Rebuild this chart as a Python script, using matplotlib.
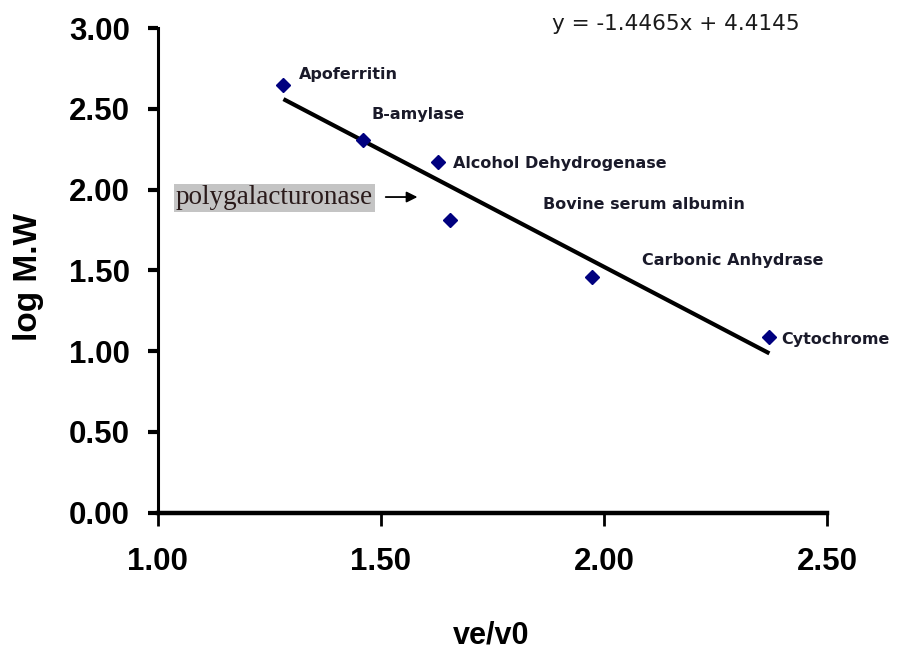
import matplotlib
matplotlib.use("Agg")
import matplotlib.pyplot as plt
import numpy as np

# elution ratio (ve/v0) and log molecular weight of the standards
ve_v0 = [1.282, 1.459, 1.629, 1.655, 1.972, 2.370]
log_mw = [2.647, 2.306, 2.168, 1.811, 1.457, 1.085]
names = ["Apoferritin", "B-amylase", "Alcohol Dehydrogenase",
         "Bovine serum albumin", "Carbonic Anhydrase", "Cytochrome"]

# fitted line
slope = -1.4465
intercept = 4.4145

x_ticks = [1.0, 1.5, 2.0, 2.5]
y_ticks = [0.0, 0.5, 1.0, 1.5, 2.0, 2.5, 3.0]

arial = ["Liberation Sans", "DejaVu Sans"]

fig = plt.figure(figsize=(9, 6.52), dpi=100)
ax = fig.add_axes([0.175, 0.2136, 0.7444, 0.7434])

xs = np.array([min(ve_v0), max(ve_v0)])
ax.plot(xs, slope * xs + intercept, color="black", lw=3.0, solid_capstyle="butt", zorder=2)
ax.plot(ve_v0, log_mw, linestyle="none", marker="D", ms=7.5, color="#00007f", zorder=3)

ax.set_xlim(1.0, 2.5)
ax.set_ylim(0.0, 3.0)
ax.set_xticks(x_ticks)
ax.set_yticks(y_ticks)
ax.set_xticklabels(["%.2f" % v for v in x_ticks])
ax.set_yticklabels(["%.2f" % v for v in y_ticks])
for lab in ax.get_xticklabels() + ax.get_yticklabels():
    lab.set_family(arial)
    lab.set_fontweight("bold")
    lab.set_fontsize(22.5)

ax.spines["top"].set_visible(False)
ax.spines["right"].set_visible(False)
ax.spines["bottom"].set_linewidth(3.2)
ax.spines["left"].set_linewidth(2.2)
ax.tick_params(axis="x", direction="out", length=9, width=2.0, pad=16)
ax.tick_params(axis="y", direction="out", length=7, width=3.0, pad=13)

# protein names next to the points
name_pos = [(1.317, 2.714), (1.480, 2.465), (1.661, 2.162),
            (1.862, 1.908), (2.084, 1.564), (2.397, 1.075)]
for name, (tx, ty) in zip(names, name_pos):
    ax.text(tx, ty, name, fontsize=11.5, fontweight="bold", color="#1a1a2a",
            ha="left", va="center")

ax.text(1.8825, 3.028, "y = -1.4465x + 4.4145", fontsize=15.5, color="#1a1a1a",
        ha="left", va="center", clip_on=False)

ax.text(1.041, 1.95, "polygalacturonase", family=["Liberation Serif", "DejaVu Serif"],
        fontsize=19.5, color="#2a1a1a", ha="left", va="center",
        bbox=dict(boxstyle="square,pad=0.06", fc="#c4c4c4", ec="none"))
ax.annotate("", xy=(1.582, 1.954), xytext=(1.511, 1.954),
            arrowprops=dict(arrowstyle="-|>", color="black", lw=1.3,
                            mutation_scale=16, shrinkA=0, shrinkB=0))

fig.text(491 / 900, 1 - 621 / 652, "ve/v0", family=arial, fontweight="bold",
         fontsize=22, ha="center", va="top")
fig.text(29 / 900, 1 - 277 / 652, "log M.W", family=arial, fontweight="bold",
         fontsize=24, rotation=90, ha="center", va="center")

fig.savefig("out.png", dpi=100, facecolor="white")
